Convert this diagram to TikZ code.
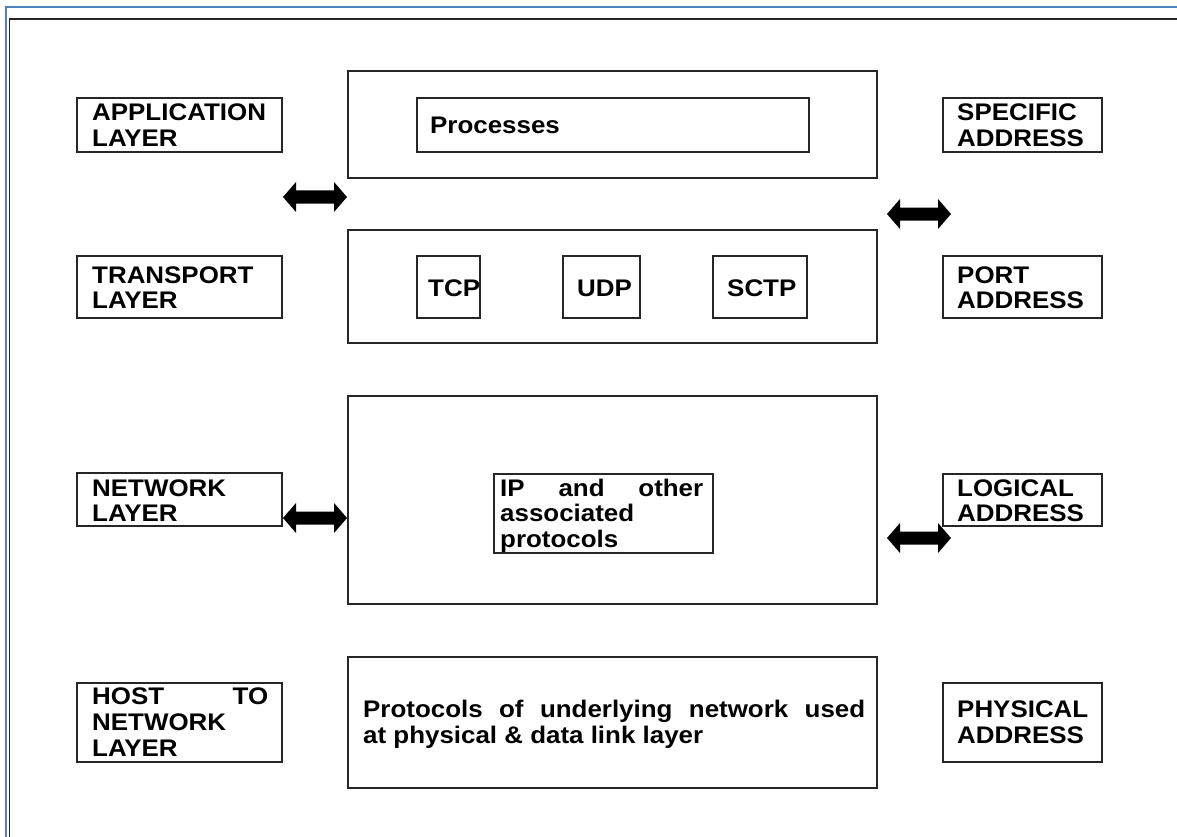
\documentclass[tikz,border=0pt]{standalone}
\usepackage{fontspec}
\setmainfont[FakeStretch=1.08]{Liberation Sans}
\usetikzlibrary{fit}
\definecolor{frameblue}{RGB}{79,129,189}
\begin{document}
\begin{tikzpicture}[x=1pt,y=-1pt,
  box/.style={draw=black!85, line width=1.6pt, inner sep=0pt},
  txt/.style={anchor=base west, inner sep=0pt, font=\fontsize{24}{26}\selectfont\bfseries},
  dblarr/.pic={\fill[black] (-32,0) -- (-19,-15) -- (-19,-6.5) -- (19,-6.5) -- (19,-15) -- (32,0)
     -- (19,15) -- (19,6.5) -- (-19,6.5) -- (-19,15) -- cycle;}]
\useasboundingbox (0,0) rectangle (1177,837);
% page frame
\draw[frameblue, line width=2.5pt] (6,837) -- (6,7) -- (1177,7);
\draw[black!85, line width=1.5pt] (9.5,837) -- (9.5,19) -- (1177,19);

% left column
\node[box, fit={(77,98) (282,152)}] (app) {};
\node[txt] (appT1) at (92,121) {APPLICATION};
\node[txt] (appT2) at (92,147) {LAYER};
\node[box, fit={(77,256) (282,318)}] (trl) {};
\node[txt] (trlT1) at (92,283) {TRANSPORT};
\node[txt] (trlT2) at (92,308) {LAYER};
\node[box, fit={(77,473) (282,526)}] (nwl) {};
\node[txt] (nwlT1) at (92,496) {NETWORK};
\node[txt] (nwlT2) at (92,521) {LAYER};
\node[box, fit={(77,683) (282,762)}] (hnl) {};
\node[txt] (hnlT1) at (92,704) {\makebox[176pt]{HOST\hfill TO}};
\node[txt] (hnlT2) at (92,730) {NETWORK};
\node[txt] (hnlT3) at (92,756) {LAYER};

% right column
\node[box, fit={(943,98) (1102,152)}] (spec) {};
\node[txt] (specT1) at (957,121) {SPECIFIC};
\node[txt] (specT2) at (957,147) {ADDRESS};
\node[box, fit={(943,256) (1102,318)}] (port) {};
\node[txt] (portT1) at (957,283) {PORT};
\node[txt] (portT2) at (957,308) {ADDRESS};
\node[box, fit={(943,474) (1102,526)}] (logi) {};
\node[txt] (logiT1) at (957,496) {LOGICAL};
\node[txt] (logiT2) at (957,521) {ADDRESS};
\node[box, fit={(943,683) (1102,762)}] (phys) {};
\node[txt] (physT1) at (957,717) {PHYSICAL};
\node[txt] (physT2) at (957,743) {ADDRESS};

% middle column
\node[box, fit={(348,71) (877,178)}] (procO) {};
\node[box, fit={(417,98) (809,152)}] (procI) {};
\node[txt] (procT) at (430,134) {Processes};

\node[box, fit={(348,230) (877,343)}] (trO) {};
\node[box, fit={(417,256) (480,318)}] (tcp) {};
\node[txt] (tcpT) at (428,296) {TCP};
\node[box, fit={(563,256) (640,318)}] (udp) {};
\node[txt] (udpT) at (577,296) {UDP};
\node[box, fit={(713,256) (807,318)}] (sctp) {};
\node[txt] (sctpT) at (727,296) {SCTP};

\node[box, fit={(348,396) (877,604)}] (nwO) {};
\node[box, fit={(494,474) (713,553)}] (ip) {};
\node[txt] (ipT1) at (500,496) {\makebox[203pt]{IP\hfill and\hfill other}};
\node[txt] (ipT2) at (500,521) {associated};
\node[txt] (ipT3) at (500,547) {protocols};

\node[box, fit={(348,657) (877,788)}] (hO) {};
\node[txt] (hT1) at (363,717) {\makebox[502pt][s]{Protocols of underlying network used}};
\node[txt] (hT2) at (363,743) {at physical \& data link layer};

% block arrows
\pic at (315,197) {dblarr};
\pic at (919,214) {dblarr};
\pic at (315,518) {dblarr};
\pic at (919,538) {dblarr};
\end{tikzpicture}
\end{document}
